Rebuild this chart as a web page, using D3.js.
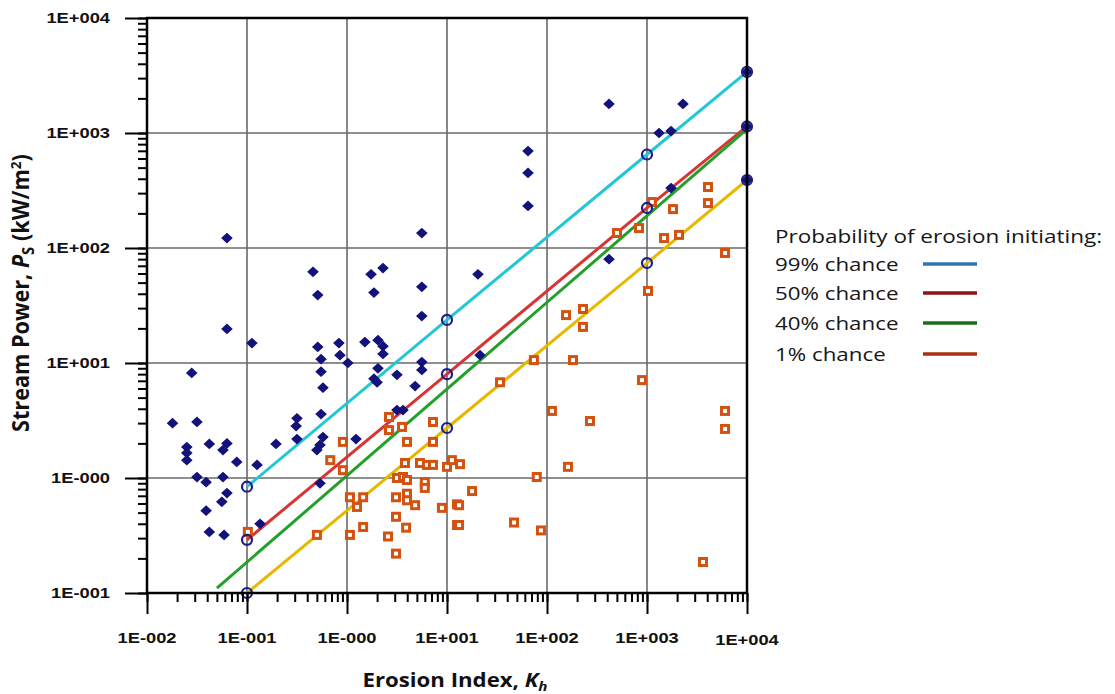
<!DOCTYPE html>
<html>
<head>
<meta charset="utf-8">
<script src="https://cdn.jsdelivr.net/npm/d3@7"></script>
<style>
  body { margin: 0; background: #fff; }
  svg { display: block; }
  .tickLbl { font-family: "Liberation Sans", Arial, sans-serif; font-weight: bold; font-size: 15px; fill: #111; }
  .axTitle { font-family: "Open Sans", sans-serif; font-weight: bold; font-size: 19px; fill: #111; }
  .legTxt { font-family: "Open Sans", sans-serif; font-size: 18px; fill: #161616; }
</style>
</head>
<body>
<svg width="1115" height="694"></svg>
<script>

	// tick labels as printed on the chart
	var xTickLabels = ["1E-002", "1E-001", "1E-000", "1E+001", "1E+002", "1E+003", "1E+004"];
	var yTickLabels = ["1E-001", "1E-000", "1E+001", "1E+002", "1E+003", "1E+004"];

	// blue diamonds (erosion index Kh, stream power Ps)
	var blueK = [0.063, 5.6, 0.457, 2.29, 1.74, 1.86, 0.51, 5.6, 5.6, 0.063, 0.112, 0.51, 0.83, 0.85, 1.02, 1.51, 2.04, 2.29, 2.29,
		0.55, 0.55, 0.575, 0.028, 2.04, 1.86, 2.0, 3.16, 4.8, 5.6, 5.6, 0.55, 0.316, 0.31, 0.316, 0.018, 0.0316, 0.025, 0.025, 0.025,
		0.042, 0.063, 0.0575, 0.079, 0.126, 0.195, 0.575, 0.537, 0.5, 1.23, 3.16, 3.63, 0.0316, 0.039, 0.0575, 0.063, 0.056, 0.039,
		0.042, 0.059, 0.537, 0.135, 417, 2290, 1320, 1740, 64.6, 64.6, 64.6, 1740, 20.4, 417, 21.4, 10000, 10000, 10000];
	var blueP = [122, 135, 62, 67, 59, 41, 39, 46, 25.6, 19.8, 14.9, 13.8, 14.9, 11.7, 10, 15.2, 15.8, 14, 12,
		10.8, 8.4, 6.1, 8.2, 9.0, 7.3, 6.8, 7.9, 6.3, 10.2, 8.7, 3.6, 3.3, 2.83, 2.18, 3.0, 3.07, 1.86, 1.65, 1.43,
		1.98, 2.0, 1.75, 1.38, 1.3, 1.98, 2.27, 1.94, 1.75, 2.18, 3.9, 3.9, 1.02, 0.92, 1.02, 0.74, 0.62, 0.52,
		0.34, 0.32, 0.9, 0.4, 1790, 1790, 1000, 1040, 697, 449, 232, 332, 59, 80, 11.7, 3400, 1140, 390];

	// orange squares (erosion index Kh, stream power Ps)
	var orangeK = [2.63, 2.63, 3.55, 7.24, 3.98, 7.24, 0.91, 0.68, 0.91, 3.8, 5.37, 6.3, 7.24, 10, 11.2, 3.16, 3.63, 3.98, 6.0, 6.0,
		1.07, 1.45, 1.26, 3.09, 3.98, 3.98, 4.8, 8.9, 12.6, 12.6, 3.09, 3.9, 1.45, 2.57, 1.07, 3.09, 0.102, 0.5,
		6030, 1023, 155, 229, 229, 74, 182, 33.9, 891, 112, 269, 6030, 6030, 13.5, 162, 79, 17.8, 13.2, 13.2, 46.8, 87, 3630,
		1120, 1820, 4070, 4070, 501, 832, 1480, 2090];
	var orangeP = [3.39, 2.61, 2.78, 3.07, 2.06, 2.06, 2.06, 1.43, 1.17, 1.35, 1.35, 1.3, 1.3, 1.25, 1.43, 1.0, 1.02, 0.96, 0.92, 0.82,
		0.68, 0.68, 0.56, 0.68, 0.73, 0.64, 0.58, 0.55, 0.59, 0.39, 0.46, 0.37, 0.375, 0.31, 0.32, 0.22, 0.34, 0.32,
		90.5, 42.3, 26.1, 29.5, 20.6, 10.6, 10.6, 6.8, 7.1, 3.83, 3.13, 3.83, 2.67, 1.32, 1.25, 1.02, 0.77, 0.58, 0.39, 0.41, 0.35, 0.186,
		251, 218, 339, 246, 135, 149, 122, 130];

	// probability lines (points marked with circles where given)
	var lineNames = ["99% chance", "50% chance", "40% chance", "1% chance"];
	var lineK = [
		[0.1, 10, 1000, 10000],
		[0.1, 10, 1000, 10000],
		[0.05, 10000],
		[0.1, 10, 1000, 10000]
	];
	var lineP = [
		[0.84, 23.7, 650, 3400],
		[0.29, 8.0, 223, 1140],
		[0.11, 1080],
		[0.1, 2.72, 74, 390]
	];
	var lineMarked = [true, true, false, true];
	var plotColors = ["#22c7d6", "#d83434", "#22a02a", "#e6b800"];
	var legendColors = ["#2e74b5", "#8e1414", "#1e6b1e", "#a8300e"];

	function drawChart(){

		var margin = { top: 18, left: 147 };
		var width = 600;
		var height = 575;
		var stretch = 1.22;   // the original text is drawn wide

		var svg = d3.select("svg");

		var x = d3.scaleLog().domain([0.01, 10000]).range([margin.left, margin.left + width]);
		var y = d3.scaleLog().domain([0.1, 10000]).range([margin.top + height, margin.top]);

		var xMajor = xTickLabels.map(function(d, i){ return Math.pow(10, i - 2); });
		var yMajor = yTickLabels.map(function(d, i){ return Math.pow(10, i - 1); });

		// grid
		var grid = svg.append("g").attr("class", "grid");
		grid.selectAll(".vg")
			.data(xMajor)
			.enter()
			.append("line")
			.attr("x1", function(d){ return x(d); })
			.attr("x2", function(d){ return x(d); })
			.attr("y1", y(10000))
			.attr("y2", y(0.1))
			.style("stroke", "#6a6a6a")
			.style("stroke-width", 1.6);
		grid.selectAll(".hg")
			.data(yMajor)
			.enter()
			.append("line")
			.attr("y1", function(d){ return y(d); })
			.attr("y2", function(d){ return y(d); })
			.attr("x1", x(0.01))
			.attr("x2", x(10000))
			.style("stroke", "#6a6a6a")
			.style("stroke-width", 1.6);

		// probability lines
		var lineGen = d3.line()
			.x(function(d){ return x(d[0]); })
			.y(function(d){ return y(d[1]); });

		var lineData = lineK.map(function(ks, i){
			return ks.map(function(k, j){ return [k, lineP[i][j]]; });
		});

		svg.append("g").selectAll("path")
			.data(lineData)
			.enter()
			.append("path")
			.attr("d", lineGen)
			.style("fill", "none")
			.style("stroke", function(d, i){ return plotColors[i]; })
			.style("stroke-width", 3);

		// squares
		var sq = 7;
		svg.append("g").selectAll("rect")
			.data(orangeK.map(function(k, i){ return [k, orangeP[i]]; }))
			.enter()
			.append("rect")
			.attr("x", function(d){ return x(d[0]) - sq / 2; })
			.attr("y", function(d){ return y(d[1]) - sq / 2; })
			.attr("width", sq)
			.attr("height", sq)
			.style("fill", "#fff")
			.style("stroke", "#d4520f")
			.style("stroke-width", 3);

		// diamonds
		svg.append("g").selectAll("rect")
			.data(blueK.map(function(k, i){ return [k, blueP[i]]; }))
			.enter()
			.append("rect")
			.attr("x", -3.8)
			.attr("y", -3.8)
			.attr("width", 7.6)
			.attr("height", 7.6)
			.attr("transform", function(d){ return "translate(" + x(d[0]) + "," + y(d[1]) + ") scale(1.08,1) rotate(45)"; })
			.style("fill", "#12127a");

		// circle markers on lines
		var marks = [];
		lineData.forEach(function(pts, i){
			if (lineMarked[i]) pts.forEach(function(p){ marks.push(p); });
		});
		svg.append("g").selectAll("circle")
			.data(marks)
			.enter()
			.append("circle")
			.attr("cx", function(d){ return x(d[0]); })
			.attr("cy", function(d){ return y(d[1]); })
			.attr("r", 5)
			.style("fill", "none")
			.style("stroke", "#1c1c8a")
			.style("stroke-width", 2.2);

		// frame
		svg.append("rect")
			.attr("x", x(0.01))
			.attr("y", y(10000))
			.attr("width", width)
			.attr("height", height)
			.style("fill", "none")
			.style("stroke", "#000")
			.style("stroke-width", 2.5);

		// axes: minor ticks then major ticks
		var xAxisMinor = svg.append("g")
			.attr("transform", "translate(0," + y(0.1) + ")")
			.call(d3.axisBottom(x).tickValues(x.ticks()).tickSize(9).tickFormat(""));
		var xAxisMajor = svg.append("g")
			.attr("transform", "translate(0," + y(0.1) + ")")
			.call(d3.axisBottom(x).tickValues(xMajor).tickSize(21).tickFormat(""));
		var yAxisMinor = svg.append("g")
			.attr("transform", "translate(" + x(0.01) + ",0)")
			.call(d3.axisLeft(y).tickValues(y.ticks()).tickSize(9).tickFormat(""));
		var yAxisMajor = svg.append("g")
			.attr("transform", "translate(" + x(0.01) + ",0)")
			.call(d3.axisLeft(y).tickValues(yMajor).tickSize(22).tickFormat(""));

		[xAxisMinor, xAxisMajor, yAxisMinor, yAxisMajor].forEach(function(a){
			a.select(".domain").remove();
			a.selectAll(".tick line").style("stroke", "#000").style("stroke-width", 2);
		});

		// tick labels
		svg.append("g").selectAll("text")
			.data(xMajor)
			.enter()
			.append("text")
			.attr("class", "tickLbl")
			.attr("transform", function(d, i){
				var ty = i === xMajor.length - 1 ? 645 : 643;
				return "translate(" + x(d) + "," + ty + ") scale(" + stretch + ",1)";
			})
			.attr("text-anchor", "middle")
			.text(function(d, i){ return xTickLabels[i]; });

		svg.append("g").selectAll("text")
			.data(yMajor)
			.enter()
			.append("text")
			.attr("class", "tickLbl")
			.attr("transform", function(d){ return "translate(110," + (y(d) + 5) + ") scale(" + stretch + ",1)"; })
			.attr("text-anchor", "end")
			.text(function(d, i){ return yTickLabels[i]; });

		// axis titles
		var xt = svg.append("text")
			.attr("class", "axTitle")
			.attr("transform", "translate(455,687) scale(1.17,1)")
			.attr("text-anchor", "middle");
		xt.append("tspan").text("Erosion Index, ");
		xt.append("tspan").style("font-style", "italic").text("K");
		xt.append("tspan").style("font-style", "italic").style("font-size", "13px").attr("dy", 4).text("h");

		var yt = svg.append("text")
			.attr("class", "axTitle")
			.attr("transform", "translate(29,293) rotate(-90) scale(1.14,1.18)")
			.attr("text-anchor", "middle");
		yt.append("tspan").text("Stream Power, ");
		yt.append("tspan").style("font-style", "italic").text("P");
		yt.append("tspan").style("font-size", "13px").attr("dy", 4).text("S");
		yt.append("tspan").attr("dy", -4).text(" (kW/m");
		yt.append("tspan").style("font-size", "12px").attr("dy", -7).text("2");
		yt.append("tspan").attr("dy", 7).text(")");

		// legend
		var leg = svg.append("g").attr("class", "legend");
		leg.append("text")
			.attr("class", "legTxt")
			.attr("transform", "translate(775,243) scale(1.25,1)")
			.text("Probability of erosion initiating:");

		var rowY = [265, 294, 324, 355];
		lineNames.forEach(function(name, i){
			leg.append("text")
				.attr("class", "legTxt")
				.attr("transform", "translate(775," + (rowY[i] + 6) + ") scale(1.24,1)")
				.text(name);
			leg.append("line")
				.attr("x1", 923)
				.attr("x2", 977)
				.attr("y1", rowY[i] - 1)
				.attr("y2", rowY[i] - 1)
				.style("stroke", legendColors[i])
				.style("stroke-width", 3.4);
		});

		return;

	}// end function drawChart()

	drawChart();

</script>
</body>
</html>
